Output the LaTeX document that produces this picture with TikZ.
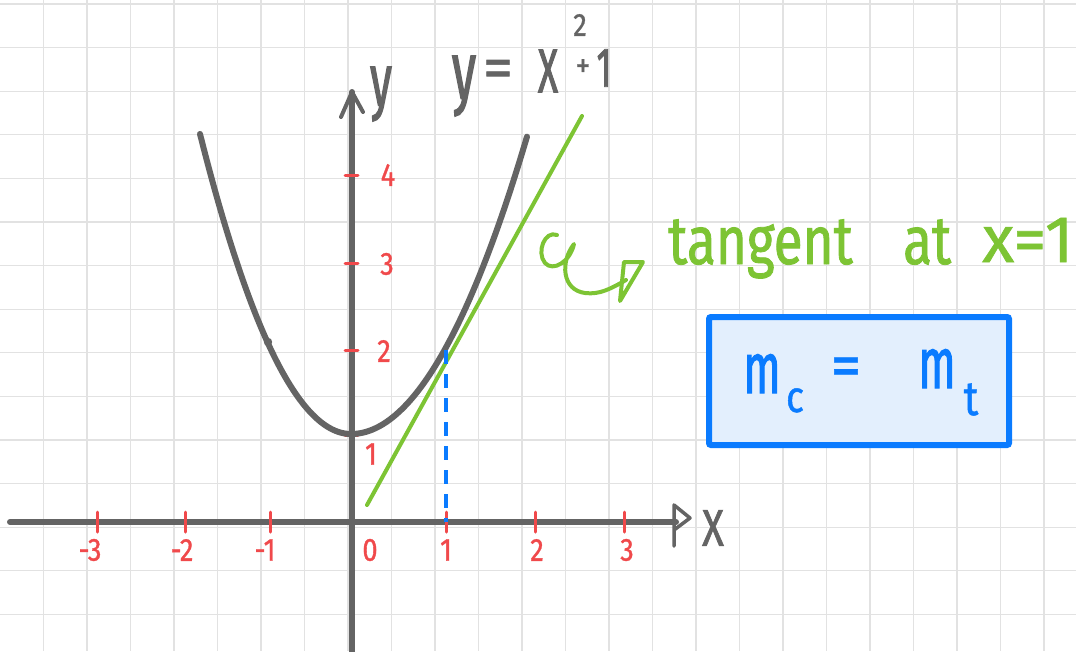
\documentclass[tikz,border=0pt]{standalone}
\usepackage{fontspec}
\setmainfont{Fira Sans}
\newfontfamily\handA[FakeStretch=0.6,FakeBold=1.5]{Fira Sans}
\newfontfamily\handB[FakeStretch=0.78,FakeBold=1.2]{Fira Sans}
\newfontfamily\handC[FakeStretch=0.85,FakeBold=1]{Fira Sans}
\newfontfamily\handD[FakeBold=1]{Fira Sans}
\definecolor{gridc}{HTML}{E2E2E2}
\definecolor{axc}{HTML}{646464}
\definecolor{redc}{HTML}{F0494B}
\definecolor{greenc}{HTML}{7DC434}
\definecolor{bluec}{HTML}{0A7BFF}
\definecolor{boxfill}{HTML}{E3EFFD}
\tikzset{
  gridline/.style={draw=gridc, line width=1.3pt},
  axis/.style={draw=axc, line width=6pt, line cap=round},
  curve/.style={draw=axc, line width=6pt, line cap=round},
  tick/.style={draw=redc, line width=3pt, line cap=round},
  ticklab/.style={text=redc, font=\handC\fontsize{32}{34}\selectfont, inner sep=0pt},
  greentext/.style={text=greenc, font=\handB\fontsize{68}{70}\selectfont, inner sep=0pt},
  graytext/.style={text=axc, inner sep=0pt},
  bluetext/.style={text=bluec, inner sep=0pt},
}
\begin{document}
\begin{tikzpicture}[x=1pt,y=-1pt]
\useasboundingbox (0,0) rectangle (1076,651);
\fill[white] (0,0) rectangle (1076,651);
% grid
\foreach \k in {1,...,24} \draw[gridline] ({43.5*\k},0) -- ({43.5*\k},651);
\foreach \k in {0,...,14} \draw[gridline] (0,{4+43.6*\k}) -- (1076,{4+43.6*\k});

% axes
\coordinate (xl) at (10,522);
\coordinate (xr) at (676,522);
\coordinate (yb) at (352,660);
\coordinate (yt) at (352,92);
\draw[axis] (xl) -- (xr);
\draw[axis] (yb) -- (yt);
\coordinate (ya1) at (341,117);
\coordinate (ya2) at (363,112);
\draw[axc, line width=4pt, line cap=round, line join=round] (ya1) -- (yt) -- (ya2);
\coordinate (xa1) at (674,505);
\coordinate (xa2) at (690,518);
\coordinate (xa3) at (674,546);
\draw[axc, line width=3.5pt, line cap=round, line join=round] (xa3) -- (xa1) -- (xa2) -- (674,530);

% axis labels
\node[graytext, font=\handA\fontsize{74}{76}\selectfont] (ylab) at (381,94) {y};
\node[graytext, font=\handB\fontsize{52}{54}\selectfont] (xlab) at (713,528) {X};

% x ticks
\foreach \xx/\lab/\lx in {97/{-3}/90, 185/{-2}/182, 270/{-1}/265, 446/1/446, 535/2/537, 624/3/627}{
  \draw[tick] (\xx,512) -- (\xx,532);
  \node[ticklab] at (\lx,550) {\lab};
}
\node[ticklab] (zero) at (370,550) {0};
% y ticks
\foreach \yy/\lab/\lx/\ly in {175/4/388/175, 263/3/387/264, 350/2/384/351, 435/1/371/454}{
  \draw[tick] (345,\yy) -- (358,\yy);
  \node[ticklab] at (\lx,\ly) {\lab};
}

% parabola
\draw[curve] plot[domain=-15.1:0, samples=60, smooth] ({351+10*\x}, {434-1.316*(\x)^2})
   -- plot[domain=0:17.6, samples=60, smooth] ({351+10*\x}, {434-0.96*(\x)^2});
\fill[axc] (268,342) circle (4.2);

% tangent
\coordinate (t1) at (367,505);
\coordinate (t2) at (582,116);
\draw[greenc, line width=4pt, line cap=round] (t1) -- (t2);

% dashed
\coordinate (d1) at (446,350);
\coordinate (d2) at (446,522);
\draw[bluec, line width=4pt, dash pattern=on 14pt off 10pt] (d1) -- (d2);

% equation
\node[graytext, font=\handA\fontsize{82}{84}\selectfont] (eqy) at (464,86) {y};
\node[graytext, font=\handD\fontsize{60}{62}\selectfont] (eqeq) at (498,74) {=};
\node[graytext, font=\handA\fontsize{62}{64}\selectfont] (eqx) at (548,71) {X};
\node[graytext, font=\handC\fontsize{32}{34}\selectfont] (eqtwo) at (580,25) {2};
\node[graytext, font=\handC\fontsize{34}{36}\selectfont] (eqplus) at (583,68) {+};
\node[graytext, font=\handA\fontsize{56}{58}\selectfont] (eqone) at (604,68) {1};

% curly arrow
\coordinate (c0) at (557,235);
\coordinate (c1) at (626,280);
\draw[greenc, line width=4pt, line cap=round, line join=round]
  (c0) .. controls (545,230) and (536,252) .. (545,263)
  .. controls (553,272) and (570,262) .. (574,244)
  .. controls (560,262) and (562,290) .. (585,293)
  .. controls (600,295) and (612,288) .. (c1);
\draw[greenc, line width=4pt, line cap=round, line join=round]
  (624,262) -- (643,262) -- (620,301) -- cycle;

% tangent text
\node[greentext, anchor=base west] (tang) at (668,264) {tangent};
\node[greentext, anchor=base west] (at) at (903,264) {at};
\node[greentext, font=\handD\fontsize{66}{68}\selectfont, anchor=base west] (xeq) at (982,262) {x=1};

% box
\node[draw=bluec, fill=boxfill, line width=6pt, minimum width=300pt, minimum height=128pt, anchor=north west, rounded corners=2pt] (box) at (706,314) {};
\node[bluetext, font=\handA\fontsize{72}{74}\selectfont, anchor=base] (m1) at (762,393) {m};
\node[bluetext, font=\handC\fontsize{44}{46}\selectfont, anchor=base] (c) at (795,412) {c};
\node[bluetext, font=\handD\fontsize{62}{64}\selectfont] (beq) at (846,372) {=};
\node[bluetext, font=\handA\fontsize{72}{74}\selectfont, anchor=base] (m2) at (937,388) {m};
\node[bluetext, font=\handC\fontsize{48}{50}\selectfont, anchor=base] (t) at (971,415) {t};
\end{tikzpicture}
\end{document}
